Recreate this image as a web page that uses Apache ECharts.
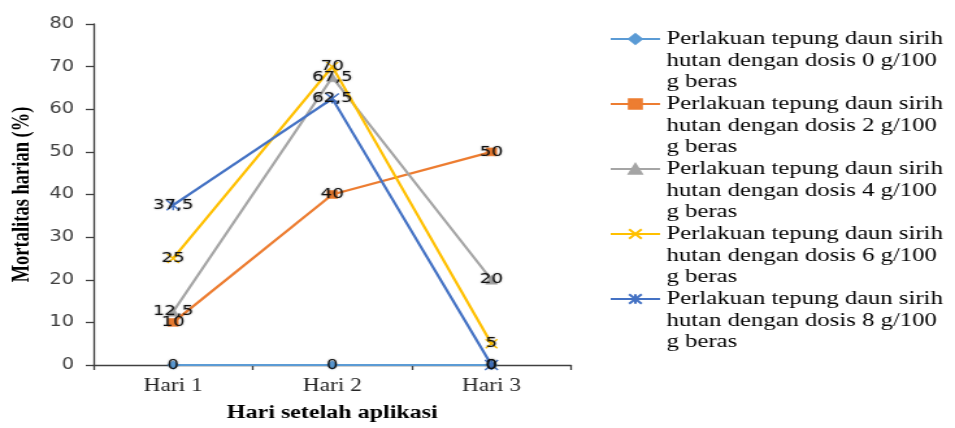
<!DOCTYPE html>
<html>
<head>
<meta charset="utf-8">
<script src="https://cdn.jsdelivr.net/npm/echarts@6/dist/echarts.min.js"></script>
<style>
  html, body { margin: 0; padding: 0; background: #fff; overflow: hidden; }
  /* the source picture is stretched sideways, so the chart is drawn narrow and widened */
  #main { width: 735px; height: 428px; transform: scaleX(1.29932); transform-origin: 0 0; }
</style>
</head>
<body>
<div id="main"></div>
<script>
var days = ['Hari 1', 'Hari 2', 'Hari 3'];
var seriesNames = [
    'Perlakuan tepung daun sirih\nhutan dengan dosis 0 g/100\ng beras',
    'Perlakuan tepung daun sirih\nhutan dengan dosis 2 g/100\ng beras',
    'Perlakuan tepung daun sirih\nhutan dengan dosis 4 g/100\ng beras',
    'Perlakuan tepung daun sirih\nhutan dengan dosis 6 g/100\ng beras',
    'Perlakuan tepung daun sirih\nhutan dengan dosis 8 g/100\ng beras'
];
var dosis0 = [0, 0, 0];
var dosis2 = [10, 40, 50];
var dosis4 = [12.5, 67.5, 20];
var dosis6 = [25, 70, 5];
var dosis8 = [37.5, 62.5, 0];
var yTicks = [0, 10, 20, 30, 40, 50, 60, 70, 80];

var colors = ['#5B9BD5', '#ED7D31', '#A5A5A5', '#FFC000', '#4472C4'];
var allData = [dosis0, dosis2, dosis4, dosis6, dosis8];

// marker shapes like the office chart: diamond, square, triangle, cross, star
var xPath = 'path://M0,0L10,10M10,0L0,10';
var starPath = 'path://M0,0L10,10M10,0L0,10M5,0L5,10';
var symbols = ['diamond', 'rect', 'triangle', xPath, starPath];
var sizes = [9, 8, 9, 9, 10];

var chart = echarts.init(document.getElementById('main'));

var L = 21.7;
var seriesData = [];
var legends = [];
for (var i = 0; i < 5; i++) {
    var stroked = i >= 3;
    seriesData.push({
        name: seriesNames[i],
        type: 'line',
        data: allData[i],
        symbol: symbols[i],
        symbolSize: sizes[i],
        showAllSymbol: true,
        lineStyle: { color: colors[i], width: 2.2 },
        itemStyle: stroked
            ? { color: 'rgba(0,0,0,0)', borderColor: colors[i], borderWidth: 1.4 }
            : { color: colors[i], borderColor: colors[i], borderWidth: 0.5 },
        label: {
            show: true,
            position: 'inside',
            fontFamily: 'DejaVu Sans',
            fontSize: 14,
            color: '#111',
            textShadowColor: 'rgba(0,0,0,0.4)',
            textShadowBlur: 2,
            formatter: function (p) { return String(p.value).replace('.', ','); }
        },
        emphasis: { disabled: true },
        animation: false
    });
    // two blank lines in front so the icon sits on the first text line
    legends.push({
        data: [seriesNames[i]],
        orient: 'vertical',
        left: 469,
        top: 39 + 65 * i - 2.5 * L,
        padding: 0,
        itemWidth: 38,
        itemHeight: 12,
        itemGap: 0,
        formatter: function (name) { return '\n\n' + name; },
        textStyle: {
            fontFamily: 'Liberation Serif',
            fontSize: 19,
            lineHeight: L,
            color: '#000'
        }
    });
}

var option = {
    backgroundColor: '#fff',
    color: colors,
    legend: legends,
    grid: { left: 70, top: 24, width: 369.5, bottom: 58 },
    xAxis: {
        type: 'category',
        data: days,
        boundaryGap: true,
        name: 'Hari setelah aplikasi',
        nameLocation: 'middle',
        nameGap: 39,
        nameTextStyle: { fontFamily: 'Liberation Serif', fontWeight: 'bold', fontSize: 18.5, color: '#000' },
        axisLine: { lineStyle: { color: '#404040', width: 1.3 } },
        axisTick: { show: true, length: 5, lineStyle: { color: '#404040', width: 1.3 } },
        axisLabel: { fontFamily: 'Liberation Serif', fontSize: 18, color: '#262626', margin: 12 },
        splitLine: { show: false }
    },
    yAxis: {
        type: 'value',
        min: yTicks[0],
        max: yTicks[yTicks.length - 1],
        interval: 10,
        name: 'Mortalitas harian (%)',
        nameLocation: 'middle',
        nameRotate: 90,
        nameGap: 40,
        nameTextStyle: { fontFamily: 'Liberation Serif', fontWeight: 'bold', fontSize: 18.5, color: '#000' },
        axisLine: { show: true, lineStyle: { color: '#404040', width: 1.3 } },
        axisTick: { show: true, length: 6, lineStyle: { color: '#404040', width: 1.3 } },
        axisLabel: { fontFamily: 'DejaVu Sans', fontSize: 15, color: '#404040', margin: 15 },
        splitLine: { show: false }
    },
    series: seriesData
};
chart.setOption(option);
</script>
</body>
</html>
